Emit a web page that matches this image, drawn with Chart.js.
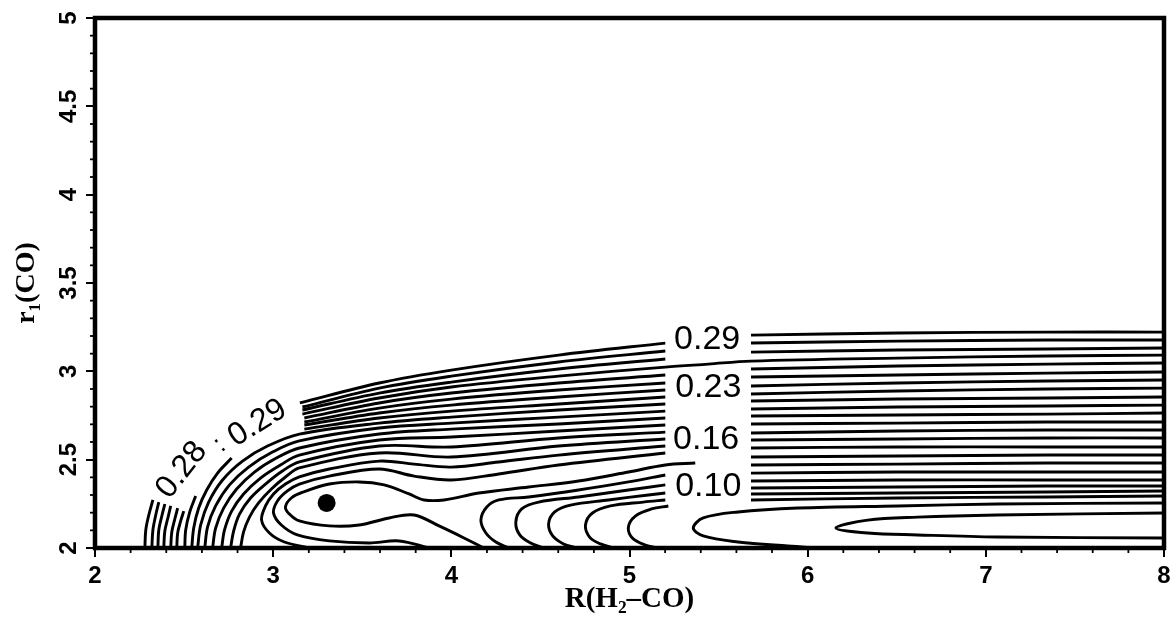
<!DOCTYPE html>
<html><head><meta charset="utf-8">
<script src="https://cdn.jsdelivr.net/npm/chart.js@4.4.1/dist/chart.umd.min.js"></script>
<style>html,body{margin:0;padding:0;background:#fff;} canvas{display:block;}</style>
</head><body>
<canvas id="c" width="1173" height="630"></canvas>
<script>
// ---- axes ----
const xTickValues = [2, 3, 4, 5, 6, 7, 8];
const xTickLabels = ['2', '3', '4', '5', '6', '7', '8'];
const yTickValues = [2, 2.5, 3, 3.5, 4, 4.5, 5];
const yTickLabels = ['2', '2.5', '3', '3.5', '4', '4.5', '5'];
const xTitle = 'R(H₂–CO)';
const yTitle = 'r₁(CO)';

// ---- contour lines: each level = list of drawn pieces, each piece = list of [R, r1] points ----
const lvl029 = [
  [[2.280,2.0],[2.285,2.102],[2.302,2.187],[2.325,2.272]],
  [[3.150,2.821],[3.595,2.934],[4.0,3.007],[4.602,3.092],[5.201,3.160]],
  [[5.682,3.205],[6.505,3.217],[7.344,3.222],[8.0,3.222]]
];
const lvl028 = [
  [[2.319,2.0],[2.325,2.102],[2.341,2.187],[2.358,2.260]],
  [[3.164,2.798],[3.595,2.905],[4.0,2.973],[4.602,3.053],[5.201,3.115]],
  [[5.682,3.160],[6.505,3.171],[7.344,3.177],[8.0,3.177]]
];
const lvl027 = [
  [[2.353,2.0],[2.358,2.102],[2.375,2.181],[2.392,2.249]],
  [[3.164,2.781],[3.595,2.877],[4.0,2.939],[4.602,3.013],[5.201,3.070]],
  [[5.682,3.109],[6.505,3.121],[7.344,3.126],[8.0,3.132]]
];
const lvl026 = [
  [[2.386,2.0],[2.392,2.096],[2.409,2.170],[2.425,2.238]],
  [[3.164,2.758],[3.595,2.849],[4.0,2.911],[4.602,2.973],[5.201,3.024],[5.442,3.041],[5.682,3.058],[6.505,3.075],[7.344,3.087],[8.0,3.092]]
];
const lvl025 = [
  [[2.425,2.0],[2.431,2.091],[2.448,2.164],[2.464,2.226]],
  [[3.175,2.736],[3.595,2.821],[4.0,2.877],[4.602,2.934],[5.201,2.979]],
  [[5.682,3.013],[6.505,3.030],[7.344,3.041],[8.0,3.047]]
];
const lvl024 = [
  [[2.459,2.0],[2.464,2.085],[2.481,2.153],[2.498,2.209]],
  [[3.175,2.713],[3.595,2.792],[4.0,2.843],[4.602,2.894],[5.201,2.934]],
  [[5.682,2.968],[6.505,2.979],[7.344,2.990],[8.0,2.996]]
];
const lvl023 = [
  [[2.504,2.0],[2.509,2.102],[2.532,2.204],[2.565,2.294]],
  [[3.175,2.696],[3.595,2.764],[4.0,2.809],[4.602,2.855],[5.201,2.894]],
  [[5.682,2.917],[6.505,2.934],[7.344,2.945],[8.0,2.951]]
];
const lvl022 = [
  [[2.543,2.0],[2.554,2.113],[2.582,2.226],[2.627,2.328],[2.688,2.424],[2.767,2.509]],
  [[3.175,2.673],[3.595,2.736],[4.0,2.775],[4.602,2.815],[5.201,2.855]],
  [[5.682,2.872],[6.505,2.889],[7.344,2.900],[8.0,2.905]]
];
const lvl021 = [
  [[2.576,2.0],[2.593,2.130],[2.638,2.260],[2.716,2.385],[2.828,2.492],[2.968,2.577],[3.147,2.645],[3.595,2.707],[4.0,2.741],[4.602,2.781],[5.201,2.815]],
  [[5.682,2.832],[6.505,2.843],[7.344,2.849],[8.0,2.855]]
];
const lvl020 = [
  [[2.616,2.0],[2.632,2.119],[2.677,2.238],[2.755,2.357],[2.862,2.458],[2.996,2.543],[3.147,2.606],[3.595,2.679],[4.0,2.707],[4.602,2.741],[5.201,2.775]],
  [[5.682,2.787],[6.505,2.798],[7.344,2.804],[8.0,2.809]]
];
const lvl019 = [
  [[2.660,2.0],[2.677,2.113],[2.722,2.226],[2.795,2.334],[2.895,2.430],[3.018,2.509],[3.147,2.566],[3.595,2.645],[4.0,2.673],[4.602,2.702],[5.201,2.736]],
  [[5.682,2.747],[6.505,2.753],[7.344,2.758],[8.0,2.764]]
];
const lvl018 = [
  [[2.711,2.0],[2.727,2.102],[2.767,2.209],[2.834,2.306],[2.929,2.396],[3.041,2.470],[3.147,2.526],[3.595,2.611],[4.0,2.628],[4.602,2.662],[5.201,2.696]],
  [[5.682,2.702],[6.505,2.707],[7.344,2.713],[8.0,2.713]]
];
const lvl017 = [
  [[2.761,2.0],[2.778,2.096],[2.811,2.192],[2.873,2.283],[2.957,2.362],[3.052,2.436],[3.147,2.487],[3.595,2.577],[4.0,2.572],[4.602,2.623],[5.201,2.656]],
  [[5.682,2.651],[6.505,2.662],[7.344,2.668],[8.0,2.668]]
];
const lvl016 = [
  [[2.817,2.0],[2.834,2.091],[2.867,2.175],[2.918,2.255],[2.990,2.334],[3.069,2.402],[3.147,2.453],[3.595,2.538],[4.0,2.515],[4.602,2.577],[5.201,2.617]],
  [[5.682,2.611],[6.505,2.617],[7.344,2.623],[8.0,2.623]]
];
const lvl015 = [
  [[3.203,2.0],[3.063,2.034],[2.979,2.085],[2.935,2.158],[2.957,2.238],[3.002,2.306],[3.069,2.362],[3.147,2.402],[3.315,2.447],[3.595,2.492],[3.791,2.475],[4.0,2.458],[4.266,2.487],[4.602,2.526],[5.201,2.577]],
  [[5.682,2.566],[6.505,2.572],[7.344,2.572],[8.0,2.572]]
];
const lvl014 = [
  [[3.875,2.0],[3.707,2.040],[3.539,2.028],[3.315,2.040],[3.136,2.074],[3.046,2.130],[3.002,2.198],[3.024,2.266],[3.080,2.323],[3.147,2.362],[3.315,2.407],[3.595,2.447],[3.791,2.407],[4.0,2.385],[4.266,2.419],[4.602,2.470],[5.201,2.538]],
  [[5.682,2.515],[6.505,2.521],[7.344,2.526],[8.0,2.526]]
];
const lvl013 = [
  [[4.182,2.0],[4.071,2.057],[3.931,2.125],[3.791,2.187],[3.651,2.170],[3.483,2.130],[3.315,2.125],[3.147,2.153],[3.091,2.192],[3.069,2.232],[3.102,2.283],[3.170,2.317],[3.315,2.362],[3.483,2.374],[3.623,2.357],[3.763,2.306],[3.847,2.272],[3.959,2.272],[4.154,2.311],[4.434,2.345],[4.714,2.379],[4.994,2.430],[5.201,2.470],[5.369,2.481]],
  [[5.682,2.470],[6.505,2.475],[7.344,2.481],[8.0,2.481]]
];
const lvl012 = [
  [[4.322,2.0],[4.250,2.034],[4.194,2.085],[4.166,2.158],[4.199,2.232],[4.266,2.272],[4.434,2.289],[4.714,2.328],[4.994,2.374],[5.201,2.413]],
  [[5.682,2.424],[6.505,2.430],[7.344,2.430],[8.0,2.430]]
];
const lvl011 = [
  [[4.518,2.0],[4.445,2.028],[4.384,2.074],[4.362,2.147],[4.395,2.221],[4.490,2.260],[4.714,2.289],[4.994,2.328],[5.201,2.357]],
  [[5.682,2.379],[6.505,2.385],[7.344,2.385],[8.0,2.385]]
];
const lvl010 = [
  [[4.703,2.0],[4.630,2.023],[4.569,2.068],[4.546,2.136],[4.580,2.204],[4.669,2.243],[4.882,2.272],[5.106,2.300],[5.201,2.311]],
  [[5.682,2.340],[6.505,2.345],[7.344,2.351],[8.0,2.351]]
];
const lvl009 = [
  [[4.910,2.0],[4.837,2.023],[4.776,2.062],[4.753,2.130],[4.792,2.198],[4.893,2.238],[5.078,2.260],[5.201,2.272]],
  [[5.682,2.306],[6.505,2.311],[7.344,2.317],[8.0,2.323]]
];
const lvl008 = [
  [[5.162,2.0],[5.089,2.017],[5.016,2.057],[4.994,2.119],[5.033,2.181],[5.123,2.221],[5.218,2.238]],
  [[5.682,2.272],[6.505,2.283],[7.344,2.289],[8.0,2.294]]
];
const lvl007 = [
  [[6.057,2.0],[5.889,2.011],[5.609,2.034],[5.414,2.068],[5.358,2.113],[5.414,2.170],[5.609,2.204],[5.945,2.226],[6.505,2.238],[7.064,2.249],[8.0,2.255]]
];
const lvl006 = [
  [[8.0,2.057],[7.064,2.062],[6.617,2.074],[6.337,2.085],[6.158,2.113],[6.337,2.158],[6.617,2.175],[7.064,2.187],[8.0,2.198]]
];
const contourLevels = [lvl029, lvl028, lvl027, lvl026, lvl025, lvl024, lvl023, lvl022, lvl021, lvl020,
  lvl019, lvl018, lvl017, lvl016, lvl015, lvl014, lvl013, lvl012, lvl011, lvl010, lvl009, lvl008, lvl007, lvl006];

// contour labels (text and anchor in data units)
const labelTexts = ['0.29', '0.23', '0.16', '0.10', '0.28', ':', '0.29'];
const labelR = [5.436, 5.442, 5.430, 5.442, 2.487, 2.699, 2.912];
const labelr = [3.177, 2.905, 2.611, 2.345, 2.441, 2.583, 2.707];

// marked geometry (black dot)
const markerR = [3.30];
const markerr = [2.255];

// ---- styles ----
const labelStyle = { angles: [0, 0, 0, 0, -52, -40, -32], sizes: [34, 34, 34, 34, 32, 26, 32] };

const datasets = [];
contourLevels.forEach(level => {
  level.forEach(piece => {
    datasets.push({
      data: piece.map(p => ({ x: p[0], y: p[1] })),
      showLine: true, borderColor: '#000', borderWidth: 2.9,
      pointRadius: 0, pointHoverRadius: 0, tension: 0.35, fill: false
    });
  });
});
datasets.push({
  data: markerR.map((v, i) => ({ x: v, y: markerr[i] })),
  showLine: false, pointRadius: 9, pointBackgroundColor: '#000', pointBorderWidth: 0, pointHoverRadius: 9
});

const decorPlugin = {
  id: 'decor',
  afterDatasetsDraw(chart) {
    const { ctx, chartArea: a, scales: { x, y } } = chart;
    ctx.save();
    // minor ticks
    ctx.strokeStyle = '#000'; ctx.lineWidth = 1.8;
    for (let i = 1; i < 30; i++) {
      if (i % 5 === 0) continue;
      const px = x.getPixelForValue(2 + i * 0.2);
      ctx.beginPath(); ctx.moveTo(px, a.bottom); ctx.lineTo(px, a.bottom + 5); ctx.stroke();
    }
    for (let i = 1; i < 30; i++) {
      if (i % 5 === 0) continue;
      const py = y.getPixelForValue(2 + i * 0.1);
      ctx.beginPath(); ctx.moveTo(a.left, py); ctx.lineTo(a.left - 5, py); ctx.stroke();
    }
    // frame
    ctx.lineWidth = 4.5;
    ctx.strokeRect(a.left, a.top, a.right - a.left, a.bottom - a.top);
    // contour labels
    ctx.fillStyle = '#000'; ctx.textAlign = 'center'; ctx.textBaseline = 'middle';
    labelTexts.forEach((t, i) => {
      const px = x.getPixelForValue(labelR[i]);
      const py = y.getPixelForValue(labelr[i]);
      ctx.save();
      ctx.translate(px, py);
      ctx.rotate(labelStyle.angles[i] * Math.PI / 180);
      ctx.font = labelStyle.sizes[i] + 'px "Liberation Sans", Arial, sans-serif';
      ctx.fillText(t, 0, 0);
      ctx.restore();
    });
    ctx.restore();
  }
};

Chart.defaults.font.family = '"Liberation Sans", Arial, sans-serif';
Chart.defaults.color = '#000';

new Chart(document.getElementById('c'), {
  type: 'scatter',
  data: { datasets },
  options: {
    responsive: false, animation: false,
    layout: { padding: { top: 18, right: 6, left: 0, bottom: 0 } },
    plugins: { legend: { display: false }, tooltip: { enabled: false } },
    scales: {
      x: {
        type: 'linear', min: 2, max: 8,
        afterBuildTicks(s) { s.ticks = xTickValues.map(v => ({ value: v })); },
        afterFit(s) { s.height = 82; s.paddingLeft = 0; s.paddingRight = 0; },
        ticks: {
          autoSkip: false, maxRotation: 0, padding: 5, color: '#000',
          font: { size: 24, weight: 'bold' },
          callback: (v) => { const i = xTickValues.indexOf(v); return i >= 0 ? xTickLabels[i] : ''; }
        },
        grid: { drawOnChartArea: false, drawTicks: true, tickLength: 9, color: '#000', lineWidth: 2 },
        border: { display: false },
        title: { display: true, text: xTitle, color: '#000', font: { family: '"Liberation Serif", serif', size: 29, weight: 'bold' }, padding: { top: 0, bottom: 13 } }
      },
      y: {
        type: 'linear', min: 2, max: 5,
        afterBuildTicks(s) { s.ticks = yTickValues.map(v => ({ value: v })); },
        afterFit(s) { s.width = 95; s.paddingTop = 0; s.paddingBottom = 0; },
        ticks: {
          autoSkip: false, minRotation: 90, maxRotation: 90, crossAlign: 'center', padding: 0, color: '#000',
          font: { size: 24, weight: 'bold' },
          callback: (v) => { const i = yTickValues.indexOf(v); return i >= 0 ? yTickLabels[i] : ''; }
        },
        grid: { drawOnChartArea: false, drawTicks: true, tickLength: 9, color: '#000', lineWidth: 2 },
        border: { display: false },
        title: { display: true, text: yTitle, color: '#000', font: { family: '"Liberation Serif", serif', size: 28, weight: 'bold' }, padding: { top: 10, bottom: 0 } }
      }
    }
  },
  plugins: [decorPlugin]
});
</script>
</body></html>
